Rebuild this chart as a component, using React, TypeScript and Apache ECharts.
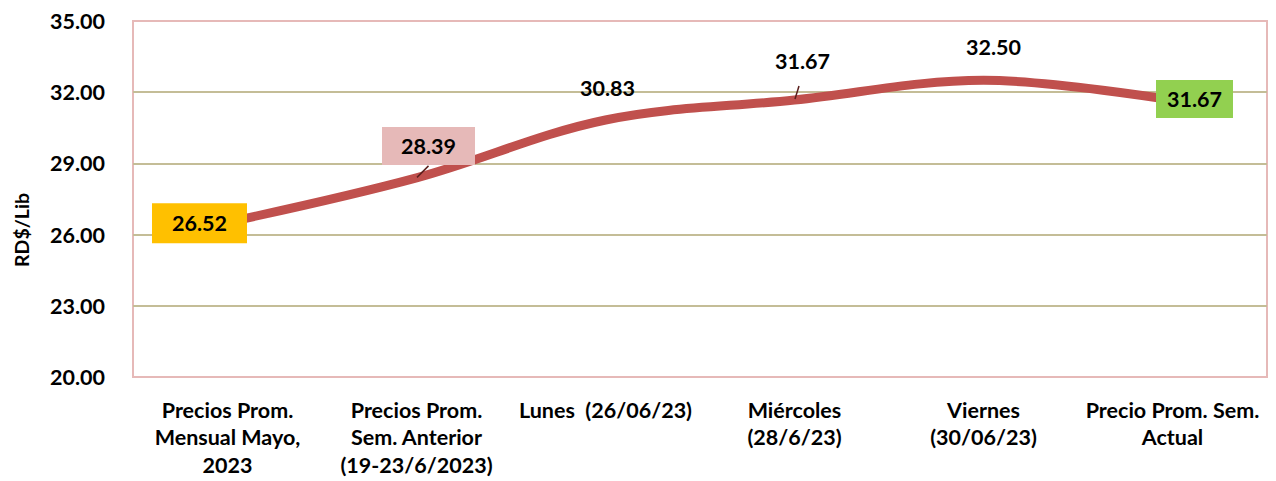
import React, { useEffect, useRef } from "react";
import * as echarts from "echarts";

const categories = [
  "Precios Prom.\nMensual Mayo,\n2023",
  "Precios Prom.\nSem. Anterior\n(19-23/6/2023)",
  "Lunes  (26/06/23)",
  "Miércoles\n(28/6/23)",
  "Viernes\n(30/06/23)",
  "Precio Prom. Sem.\nActual",
];
const prices = [26.52, 28.39, 30.83, 31.67, 32.5, 31.67];
const yMin = 20;
const yMax = 35;
const yStep = 3;
const yAxisTitle = "RD$/Lib";

const FONT = "Lato";

const labelStyles: any[] = [
  { offset: [-28, 1], backgroundColor: "#ffc000", padding: [9, 20] },
  { offset: [12, -32], backgroundColor: "#e6b9b8", padding: [8, 19] },
  { offset: [2, -32] },
  { offset: [8, -39] },
  { offset: [10, -33] },
  { offset: [22, -1], backgroundColor: "#92d050", padding: [8, 11] },
];

// leader lines: [data index, start offset, end offset]
const leaders: [number, number[], number[]][] = [
  [1, [0.5, -0.5], [12, -12]],
  [3, [0.5, -1], [4.5, -14]],
];

export default function App() {
  const ref = useRef<HTMLDivElement>(null);
  useEffect(() => {
    if (!ref.current) return;
    const chart = echarts.init(ref.current, undefined, { renderer: "svg" });
    const option: any = {
      animation: false,
      backgroundColor: "#ffffff",
      grid: {
        left: 133,
        right: 9,
        top: 21,
        bottom: 104,
        show: true,
        borderColor: "#e6b9b8",
        borderWidth: 2,
        backgroundColor: "transparent",
      },
      xAxis: {
        type: "category",
        data: categories,
        boundaryGap: true,
        axisLine: { show: false },
        axisTick: { show: false },
        axisLabel: {
          interval: 0,
          margin: 19,
          fontFamily: FONT,
          fontWeight: "bold",
          fontSize: 21.5,
          lineHeight: 27.5,
          color: "#000",
        },
        splitLine: { show: false },
      },
      yAxis: {
        type: "value",
        min: yMin,
        max: yMax,
        interval: yStep,
        axisLine: { show: false },
        axisTick: { show: false },
        axisLabel: {
          margin: 28,
          fontFamily: FONT,
          fontWeight: "bold",
          fontSize: 21.5,
          color: "#000",
          formatter: (v: number) => v.toFixed(2),
        },
        splitLine: {
          show: true,
          lineStyle: {
            width: 2,
            color: ["#e6b9b8", "#c4bd97", "#c4bd97", "#c4bd97", "#c4bd97", "#e6b9b8"],
          },
        },
      },
      graphic: [
        {
          id: "ytitle",
          type: "text",
          x: 21,
          y: 230,
          rotation: Math.PI / 2,
          style: {
            text: yAxisTitle,
            fontFamily: FONT,
            fontWeight: "bold",
            fontSize: 19.5,
            fill: "#000",
            align: "center",
            verticalAlign: "middle",
          },
        },
      ],
      series: [
        {
          type: "line",
          smooth: 0.35,
          symbol: "circle",
          symbolSize: 1,
          itemStyle: { color: "#c0504d" },
          lineStyle: { color: "#c0504d", width: 9 },
          z: 3,
          data: prices.map((v, i) => ({
            value: v,
            label: {
              show: true,
              position: "inside",
              formatter: (p: any) => Number(p.value).toFixed(2),
              fontFamily: FONT,
              fontWeight: "bold",
              fontSize: 21.5,
              lineHeight: 22,
              color: "#000",
              ...labelStyles[i],
            },
          })),
        },
      ],
    };
    chart.setOption(option);
    const leaderGraphics = leaders.map(([idx, s, e], k) => {
      const p = chart.convertToPixel({ gridIndex: 0 }, [idx, prices[idx]]) as number[];
      return {
        id: "leader" + k,
        type: "line",
        z: 10,
        shape: { x1: p[0] + s[0], y1: p[1] + s[1], x2: p[0] + e[0], y2: p[1] + e[1] },
        style: { stroke: "#5a1e1c", lineWidth: 1.5 },
      };
    });
    chart.setOption({ graphic: [option.graphic[0], ...leaderGraphics] });
    return () => chart.dispose();
  }, []);
  return (
    <div
      ref={ref}
      style={{ position: "fixed", left: 0, top: 0, width: 1276, height: 481 }}
    />
  );
}
